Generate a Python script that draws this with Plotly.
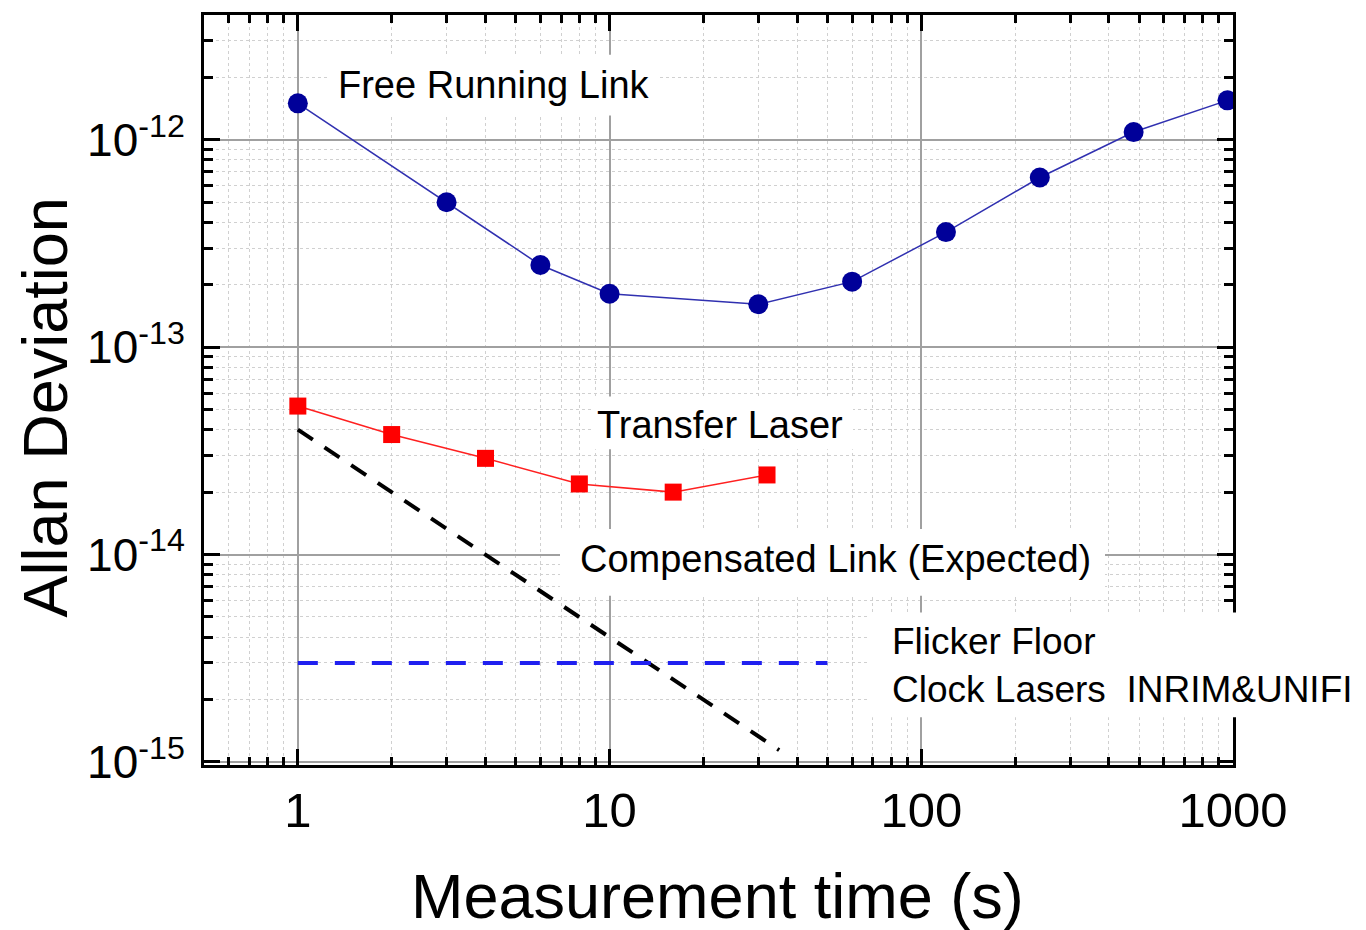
import plotly.graph_objects as go

# ---------------- data ----------------
free_tau = [1, 3, 6, 10, 30, 60, 120, 240, 480, 960]
free_adev = [1.50e-12, 5.0e-13, 2.49e-13, 1.81e-13, 1.61e-13, 2.07e-13, 3.59e-13, 6.58e-13, 1.09e-12, 1.55e-12]

transfer_tau = [1, 2, 4, 8, 16, 32]
transfer_adev = [5.2e-14, 3.79e-14, 2.91e-14, 2.19e-14, 2.0e-14, 2.42e-14]

comp_tau = [1, 35]
comp_adev = [4e-14, 1.14e-15]

flicker_tau = [1, 50]
flicker_adev = [3e-15, 3e-15]

x_tickvals = [1, 10, 100, 1000]
x_ticktext = ["1", "10", "100", "1000"]
y_tickvals = [1e-15, 1e-14, 1e-13, 1e-12]
y_ticktext = ["10<sup>-15</sup>", "10<sup>-14</sup>", "10<sup>-13</sup>", "10<sup>-12</sup>"]

x_minor = [m * 10 ** e for e in range(-1, 3) for m in range(2, 10)]
y_minor = [m * 10.0 ** e for e in range(-16, -11) for m in range(2, 10)]

FONT = "Liberation Sans, Arial, sans-serif"

fig = go.Figure()

fig.add_trace(go.Scatter(x=comp_tau, y=comp_adev, mode="lines",
                         line=dict(color="black", width=4, dash="18px,14px"),
                         showlegend=False))
fig.add_trace(go.Scatter(x=flicker_tau, y=flicker_adev, mode="lines",
                         line=dict(color="#2020f0", width=4, dash="20px,17px"),
                         showlegend=False))
fig.add_trace(go.Scatter(x=free_tau, y=free_adev, mode="lines+markers",
                         line=dict(color="#3030b0", width=1.5),
                         marker=dict(symbol="circle", size=20, color="#000099"),
                         showlegend=False))
fig.add_trace(go.Scatter(x=transfer_tau, y=transfer_adev, mode="lines+markers",
                         line=dict(color="#ff2020", width=1.5),
                         marker=dict(symbol="square", size=17, color="#ff0000"),
                         showlegend=False))

L, R, T, B = 204, 1233, 12, 765
W, H = 1366, 930


def px(x):
    return (x - L) / (R - L)


def py(y):
    return (B - y) / (B - T)


# white boxes behind the labels
boxes = [(328, 658, 52, 113), (592, 853, 395, 448), (560, 1105, 528, 595), (868, 1366, 612, 717)]
for x0, x1, y0, y1 in boxes:
    fig.add_shape(type="rect", xref="paper", yref="paper",
                  x0=px(x0), x1=px(x1), y0=py(y1), y1=py(y0),
                  fillcolor="white", line=dict(width=0), layer="above")

ann_font = dict(family=FONT, size=38, color="black")
fig.add_annotation(text="Free Running Link", xref="paper", yref="paper",
                   x=px(494), y=py(82), showarrow=False, font=ann_font,
                   xanchor="center", yanchor="middle")
fig.add_annotation(text="Transfer Laser", xref="paper", yref="paper",
                   x=px(720), y=py(424), showarrow=False, font=ann_font,
                   xanchor="center", yanchor="middle")
fig.add_annotation(text="Compensated Link (Expected)", xref="paper", yref="paper",
                   x=px(835), y=py(558), showarrow=False, font=ann_font,
                   xanchor="center", yanchor="middle")
fig.add_annotation(text="Flicker Floor<br>Clock Lasers  INRIM&amp;UNIFI", xref="paper", yref="paper",
                   x=px(890), y=py(665), showarrow=False,
                   font=dict(family=FONT, size=37, color="black"),
                   xanchor="left", yanchor="middle", align="left")

# axis titles
fig.add_annotation(text="Allan Deviation", xref="paper", yref="paper",
                   x=px(45), y=py(406), showarrow=False, textangle=-90,
                   font=dict(family=FONT, size=63, color="black"),
                   xanchor="center", yanchor="middle")
fig.add_annotation(text="Measurement time (s)", xref="paper", yref="paper",
                   x=px(717), y=py(897), showarrow=False,
                   font=dict(family=FONT, size=63, color="black"),
                   xanchor="center", yanchor="middle")

fig.update_xaxes(type="log", range=[-0.30103, 3.0],
                 tickmode="array", tickvals=x_tickvals, ticktext=x_ticktext,
                 tickfont=dict(family=FONT, size=49, color="black"),
                 ticks="inside", ticklen=16, tickwidth=2.5, tickcolor="black",
                 showline=True, linewidth=3, linecolor="black", mirror="allticks",
                 showgrid=True, gridcolor="#a0a0a0", gridwidth=1.5,
                 minor=dict(tickmode="array", tickvals=x_minor, ticks="inside",
                            ticklen=8, tickwidth=2.5, tickcolor="black",
                            showgrid=True, gridcolor="#d0d0d0", gridwidth=1, griddash="dot"),
                 zeroline=False)
fig.update_yaxes(type="log", range=[-15.015, -11.398],
                 tickmode="array", tickvals=y_tickvals, ticktext=y_ticktext,
                 tickfont=dict(family=FONT, size=46, color="black"),
                 ticks="inside", ticklen=16, tickwidth=2.5, tickcolor="black",
                 showline=True, linewidth=3, linecolor="black", mirror="allticks",
                 showgrid=True, gridcolor="#a0a0a0", gridwidth=1.5,
                 minor=dict(tickmode="array", tickvals=y_minor, ticks="inside",
                            ticklen=9, tickwidth=2.5, tickcolor="black",
                            showgrid=True, gridcolor="#d0d0d0", gridwidth=1, griddash="dot"),
                 zeroline=False, ticklabelstandoff=7)

fig.update_layout(width=W, height=H, autosize=False,
                  margin=dict(l=L, r=W - R, t=T, b=H - B, pad=0),
                  paper_bgcolor="white", plot_bgcolor="white",
                  font=dict(family=FONT, color="black"),
                  showlegend=False)

fig.write_html("out.html")
